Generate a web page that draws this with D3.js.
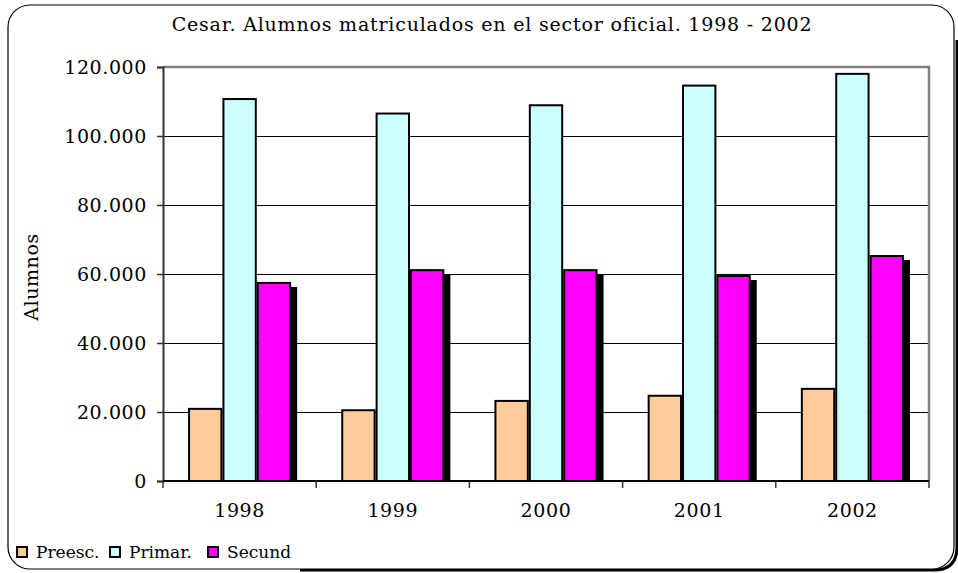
<!DOCTYPE html>
<html><head><meta charset="utf-8">
<script src="https://cdn.jsdelivr.net/npm/d3@7"></script>
<style>body{margin:0;background:#fff}svg{display:block}text{font-family:"DejaVu Serif",serif;fill:#000}</style>
</head><body><svg id="c" width="958" height="573"></svg>
<script>
const title = "Cesar. Alumnos matriculados en el sector oficial. 1998 - 2002";
const years = ["1998","1999","2000","2001","2002"];
const seriesNames = ["Preesc.","Primar.","Secund"];
const preesc = [21200, 20800, 23500, 25000, 27000];
const primar = [111000, 106800, 109200, 114900, 118300];
const secund = [57700, 61400, 61400, 59700, 65500];
const yTicks = [0,20000,40000,60000,80000,100000,120000];
const colors = ["#FFCC99","#CCFFFF","#FF00FF"];
const seriesVals = [preesc, primar, secund];

const svg = d3.select("#c");
const L=163,R=929,T=67,B=481;
// outer frame shadow and box
svg.append("path").attr("d","M300,570 L934,570 Q957,570 957,547 L957,40").attr("fill","none").attr("stroke","#000").attr("stroke-width",3);
svg.append("rect").attr("x",8).attr("y",5).attr("width",946).attr("height",564).attr("rx",22).attr("ry",22)
  .attr("fill","#fff").attr("stroke","#000").attr("stroke-width",1.2);

const x = d3.scaleBand().domain(years).range([L,R]).paddingInner(0.327).paddingOuter(0.1635);
const xs = d3.scaleBand().domain(d3.range(3)).range([0,x.bandwidth()]);
const y = d3.scaleLinear().domain([0,120000]).range([B,T]);
const fmt = v => d3.format(",")(v).replace(/,/g,".");

// gridlines
svg.append("g").selectAll("line").data(yTicks.filter(t=>t>0 && t<120000)).join("line")
  .attr("x1",L).attr("x2",R).attr("y1",d=>Math.round(y(d))+0.5).attr("y2",d=>Math.round(y(d))+0.5).attr("stroke","#000").attr("stroke-width",1);
// plot border top/right gray
svg.append("path").attr("d",`M${L},${y(120000)} H${R} V${B}`).attr("fill","none").attr("stroke","#808080").attr("stroke-width",2.5);

// bars
const data = [];
years.forEach((yr,i)=>seriesVals.forEach((s,j)=>data.push({yr,j,v:s[i]})));
const g = svg.append("g");
g.selectAll("rect.sh").data(data.filter(d=>d.j===2)).join("rect").attr("class","sh")
  .attr("x",d=>x(d.yr)+xs(d.j)+6).attr("y",d=>y(d.v)+5).attr("width",xs.bandwidth())
  .attr("height",d=>B-y(d.v)-5).attr("fill","#000");
g.selectAll("rect.b").data(data).join("rect").attr("class","b")
  .attr("x",d=>x(d.yr)+xs(d.j)+1).attr("y",d=>y(d.v)+1).attr("width",xs.bandwidth()-2)
  .attr("height",d=>B-y(d.v)-1).attr("fill",d=>colors[d.j]).attr("stroke","#000").attr("stroke-width",2);

// y axis
const ya = d3.axisLeft(y).tickValues(yTicks).tickFormat(fmt).tickSize(6).tickPadding(10);
const yg = svg.append("g").attr("transform",`translate(${L},0)`).call(ya);
yg.select(".domain").attr("stroke","#333").attr("stroke-width",2);
yg.selectAll(".tick line").attr("stroke","#333").attr("stroke-width",1.5);
yg.selectAll("text").style("font-size","19px").style("letter-spacing","0.6px").attr("fill","#000");
// x axis
const xTickPos = d3.range(6).map(i=>L+i*(R-L)/5);
svg.append("line").attr("x1",L).attr("x2",R).attr("y1",B).attr("y2",B).attr("stroke","#000").attr("stroke-width",2);
svg.append("g").selectAll("line").data(xTickPos).join("line").attr("x1",d=>d).attr("x2",d=>d).attr("y1",B).attr("y2",B+7)
  .attr("stroke","#333").attr("stroke-width",1.5);
svg.append("g").selectAll("text").data(years).join("text").attr("x",d=>x(d)+x.bandwidth()/2).attr("y",517)
  .attr("text-anchor","middle").style("font-size","19px").style("letter-spacing","0.6px").text(d=>d);

// title
svg.append("text").attr("x",492).attr("y",31).attr("text-anchor","middle").style("font-size","19px").style("letter-spacing","0.8px").text(title);
// y title
svg.append("text").attr("transform","translate(38,277) rotate(-90)").attr("text-anchor","middle").style("font-size","19px").style("letter-spacing","0.6px").text("Alumnos");

// legend
const legX = [17,110,208];
const lg = svg.append("g").selectAll("g").data(seriesNames).join("g").attr("transform",(d,i)=>`translate(${legX[i]},547)`);
lg.append("rect").attr("width",10).attr("height",10).attr("fill",(d,i)=>colors[i]).attr("stroke","#000").attr("stroke-width",2);
lg.append("text").attr("x",19).attr("y",11).style("font-size","17px").text(d=>d);
</script></body></html>
